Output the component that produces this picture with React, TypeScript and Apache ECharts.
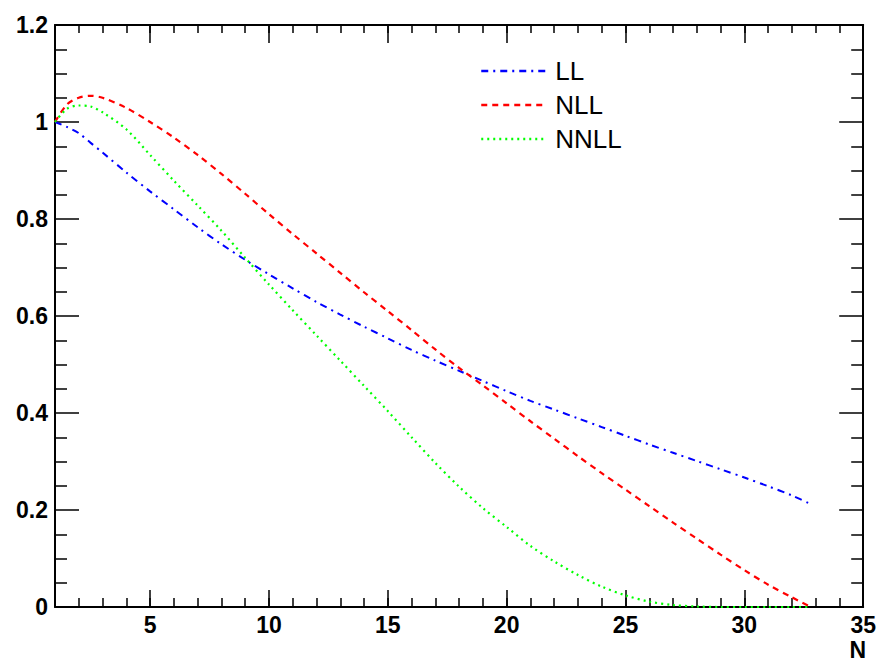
import React, { useEffect, useRef } from "react";
import * as echarts from "echarts";

const nValues = [1, 1.5, 2, 2.5, 3, 4, 5, 6, 7, 8, 9, 10, 11, 12, 13, 14, 15, 16, 17, 18, 19, 20, 21, 22, 23, 24, 25, 26, 27, 28, 29, 30, 31, 32, 32.8];

const llValues = [1.0, 0.99, 0.977, 0.957, 0.937, 0.896, 0.857, 0.82, 0.783, 0.748, 0.716, 0.686, 0.657, 0.629, 0.603, 0.578, 0.554, 0.53, 0.508, 0.487, 0.466, 0.445, 0.425, 0.407, 0.389, 0.371, 0.353, 0.335, 0.318, 0.301, 0.284, 0.267, 0.249, 0.23, 0.212];

const nllValues = [1.0, 1.036, 1.05, 1.054, 1.05, 1.029, 1.0, 0.968, 0.932, 0.893, 0.852, 0.81, 0.769, 0.729, 0.689, 0.649, 0.61, 0.571, 0.531, 0.493, 0.457, 0.42, 0.383, 0.347, 0.311, 0.276, 0.242, 0.208, 0.174, 0.141, 0.108, 0.076, 0.046, 0.02, 0.0];

const nnllValues = [1.0, 1.027, 1.034, 1.032, 1.02, 0.985, 0.932, 0.879, 0.828, 0.776, 0.72, 0.665, 0.612, 0.56, 0.508, 0.456, 0.404, 0.35, 0.297, 0.248, 0.204, 0.165, 0.126, 0.094, 0.066, 0.042, 0.024, 0.011, 0.004, 0.001, 0.0, 0.0, 0.0, 0.0, 0.0];

const seriesNames = ["LL", "NLL", "NNLL"];
const xMajorTicks = [5, 10, 15, 20, 25, 30, 35];
const xMin = 1;
const xMax = 35;
const yMin = 0;
const yMax = 1.2;
const yInterval = 0.2;

const FONT = '"Liberation Sans", Arial, Helvetica, sans-serif';

export default function App() {
  const ref = useRef<HTMLDivElement>(null);
  useEffect(() => {
    if (!ref.current) return;
    const chart = echarts.init(ref.current, null, { renderer: "svg" });
    const toPairs = (ys: number[]) => nValues.map((x, i) => [x, ys[i]]);
    const black = "#000";
    const baseX = {
      type: "value" as const,
      min: xMin,
      max: xMax,
      interval: 1,
      splitLine: { show: false },
    };
    const baseY = {
      type: "value" as const,
      min: yMin,
      max: yMax,
      interval: yInterval,
      splitLine: { show: false },
    };
    chart.setOption({
      animation: false,
      backgroundColor: "#fff",
      grid: { left: 55, top: 25, right: 13, bottom: 55, containLabel: false },
      legend: {
        orient: "vertical",
        left: 475,
        top: 53,
        itemWidth: 66,
        itemHeight: 24,
        itemGap: 8,
        data: seriesNames,
        itemStyle: { opacity: 0 },
        lineStyle: { width: 2.5 },
        textStyle: {
          fontFamily: FONT,
          fontSize: 26,
          color: black,
          lineHeight: 24,
          padding: [0, 0, 0, 3],
        },
      },
      xAxis: [
        {
          ...baseX,
          position: "bottom",
          axisLine: { show: true, onZero: false, lineStyle: { color: black, width: 2 } },
          axisTick: { show: true, inside: true, length: 17, customValues: xMajorTicks, lineStyle: { color: black, width: 1.5 } },
          axisLabel: {
            show: true,
            customValues: xMajorTicks,
            margin: 6,
            fontFamily: FONT,
            fontWeight: "bold",
            fontSize: 23,
            color: black,
          },
        },
        {
          ...baseX,
          position: "bottom",
          axisLine: { show: false, onZero: false },
          axisTick: { show: true, inside: true, length: 9, lineStyle: { color: black, width: 1.5 } },
          axisLabel: { show: false },
        },
        {
          ...baseX,
          position: "top",
          axisLine: { show: true, onZero: false, lineStyle: { color: black, width: 2 } },
          axisTick: { show: true, inside: true, length: 18, customValues: xMajorTicks, lineStyle: { color: black, width: 1.5 } },
          axisLabel: { show: false },
        },
        {
          ...baseX,
          position: "top",
          axisLine: { show: false, onZero: false },
          axisTick: { show: true, inside: true, length: 8, lineStyle: { color: black, width: 1.5 } },
          axisLabel: { show: false },
        },
      ],
      yAxis: [
        {
          ...baseY,
          position: "left",
          axisLine: { show: true, onZero: false, lineStyle: { color: black, width: 2 } },
          axisTick: { show: true, inside: true, length: 24, lineStyle: { color: black, width: 1.5 } },
          minorTick: { show: true, splitNumber: 4, length: 12, lineStyle: { color: black, width: 1.5 } },
          axisLabel: {
            show: true,
            margin: 7,
            fontFamily: FONT,
            fontWeight: "bold",
            fontSize: 23,
            color: black,
          },
        },
        {
          ...baseY,
          position: "right",
          axisLine: { show: true, onZero: false, lineStyle: { color: black, width: 2 } },
          axisTick: { show: true, inside: true, length: 24, lineStyle: { color: black, width: 1.5 } },
          minorTick: { show: true, splitNumber: 4, length: 12, lineStyle: { color: black, width: 1.5 } },
          axisLabel: { show: false },
        },
      ],
      graphic: [
        {
          type: "text",
          right: 13,
          top: 638,
          style: { text: "N", font: `bold 23px ${FONT}`, fill: black },
        },
      ],
      series: [
        {
          name: seriesNames[0],
          type: "line",
          xAxisIndex: 0,
          yAxisIndex: 0,
          data: toPairs(llValues),
          showSymbol: false,
          symbol: "none",
          smooth: 0.3,
          lineStyle: { color: "#0000ff", width: 2, type: [7, 5, 2, 5] },
          itemStyle: { color: "#0000ff" },
        },
        {
          name: seriesNames[1],
          type: "line",
          xAxisIndex: 0,
          yAxisIndex: 0,
          data: toPairs(nllValues),
          showSymbol: false,
          symbol: "none",
          smooth: 0.3,
          lineStyle: { color: "#ff0000", width: 2.2, type: [6, 5] },
          itemStyle: { color: "#ff0000" },
        },
        {
          name: seriesNames[2],
          type: "line",
          xAxisIndex: 0,
          yAxisIndex: 0,
          data: toPairs(nnllValues),
          showSymbol: false,
          symbol: "none",
          smooth: 0.3,
          lineStyle: { color: "#00ff00", width: 2.2, type: [2, 4] },
          itemStyle: { color: "#00ff00" },
        },
      ],
    });
    return () => chart.dispose();
  }, []);
  return (
    <div
      ref={ref}
      style={{ position: "fixed", left: 0, top: 0, width: 879, height: 662, background: "#fff" }}
    />
  );
}
